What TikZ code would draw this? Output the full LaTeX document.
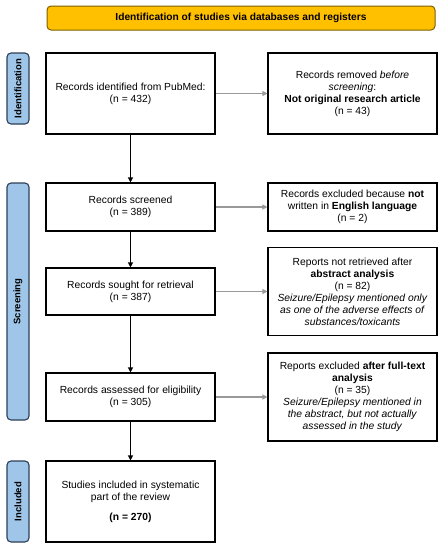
\documentclass[tikz,border=0pt]{standalone}
\usepackage{fontspec}
\setmainfont{Liberation Sans}
\usetikzlibrary{arrows.meta}
\definecolor{bannerfill}{HTML}{FFC000}
\definecolor{bannerdraw}{HTML}{7F6000}
\definecolor{sidefill}{HTML}{9FC5E8}
\definecolor{sidedraw}{HTML}{2B3F58}
\definecolor{grayarrow}{HTML}{999999}
\tikzset{
  x=1pt, y=1pt,
  mainbox/.style={draw=black, line width=1.1pt, fill=white, align=center, inner sep=2pt,
    font=\fontsize{10.3}{12}\selectfont},
  sidebox/.style={draw=sidedraw, line width=1.1pt, fill=sidefill, rounded corners=4pt,
    inner sep=0pt, font=\fontsize{9.5}{11}\selectfont\bfseries},
  banner/.style={draw=bannerdraw, line width=1pt, fill=bannerfill, rounded corners=4pt,
    inner sep=0pt, font=\fontsize{10.2}{12}\selectfont\bfseries},
  downarrow/.style={draw=black, line width=1.1pt, -{Triangle[length=5pt,width=5pt]}},
  sidearrow/.style={draw=grayarrow, line width=1.1pt, -{Triangle[length=5pt,width=5pt]}},
}
\begin{document}
\begin{tikzpicture}
\useasboundingbox (0,0) rectangle (442,-550);
% banner
\node[banner, minimum width=388pt, minimum height=24pt] (ban) at (241,-18) {Identification of studies via databases and registers};
% side labels
\node[sidebox, minimum width=71pt, minimum height=22pt, rotate=90] (sid1) at (18,-88.5) {Identification};
\node[sidebox, minimum width=237pt, minimum height=22pt, rotate=90] (sid2) at (18,-301.5) {Screening};
\node[sidebox, minimum width=81pt, minimum height=22pt, rotate=90] (sid3) at (18,-501.5) {Included};
% left column
\node[mainbox, minimum width=169pt, minimum height=81pt] (b1) at (130.5,-93.5) {Records identified from PubMed:\\(n = 432)};
\node[mainbox, minimum width=169pt, minimum height=48pt] (b2) at (130.5,-207) {Records screened\\(n = 389)};
\node[mainbox, minimum width=169pt, minimum height=47pt] (b3) at (130.5,-291.5) {Records sought for retrieval\\(n = 387)};
\node[mainbox, minimum width=169pt, minimum height=48pt] (b4) at (130.5,-397) {Records assessed for eligibility\\(n = 305)};
\node[mainbox, minimum width=169pt, minimum height=81pt] (b5) at (130.5,-501.5) {Studies included in systematic\\part of the review\\[8pt]\textbf{(n = 270)}};
% right column
\node[mainbox, minimum width=169pt, minimum height=81pt] (r1) at (352.5,-93.5) {Records removed \textit{before}\\\textit{screening}:\\\textbf{Not original research article}\\(n = 43)};
\node[mainbox, minimum width=169pt, minimum height=48pt] (r2) at (352.5,-207) {Records excluded because \textbf{not}\\written in \textbf{English language}\\(n = 2)};
\node[mainbox, minimum width=169pt, minimum height=88pt] (r3) at (352.5,-291.5) {Reports not retrieved after\\\textbf{abstract analysis}\\(n = 82)\\\textit{Seizure/Epilepsy mentioned only}\\\textit{as one of the adverse effects of}\\\textit{substances/toxicants}};
\node[mainbox, minimum width=169pt, minimum height=88pt] (r4) at (352.5,-397) {Reports excluded \textbf{after full-text}\\\textbf{analysis}\\(n = 35)\\\textit{Seizure/Epilepsy mentioned in}\\\textit{the abstract, but not actually}\\\textit{assessed in the study}};
% arrows
\draw[downarrow] (b1) -- (b2);
\draw[downarrow] (b2) -- (b3);
\draw[downarrow] (b3) -- (b4);
\draw[downarrow] (b4) -- (b5);
\draw[sidearrow] (b1) -- (r1);
\draw[sidearrow] (b2) -- (r2);
\draw[sidearrow] (b3) -- (r3);
\draw[sidearrow] (b4) -- (r4);
\end{tikzpicture}
\end{document}
